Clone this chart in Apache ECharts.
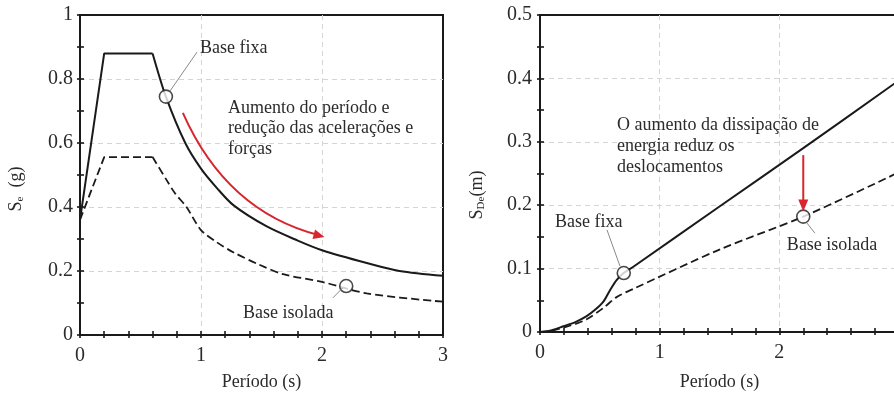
<!DOCTYPE html>
<html>
<head>
<meta charset="utf-8">
<script src="https://cdn.jsdelivr.net/npm/echarts@6/dist/echarts.min.js"></script>
<style>
html, body { margin: 0; padding: 0; background: #fff; }
#chart { width: 894px; height: 394px; }
</style>
</head>
<body>
<div id="chart"></div>
<script>
// left panel: Se (g) vs period, fixed base (solid) and isolated base (dashed)
var seFixedRise = [[0, 0.36], [0.2, 0.88], [0.6, 0.88]]
var seFixedDecay = [[0.6, 0.88], [0.71, 0.745], [0.87, 0.6], [1.0, 0.52], [1.13, 0.46], [1.27, 0.405], [1.54, 0.34], [1.8, 0.295], [2.0, 0.265], [2.37, 0.225], [2.64, 0.2], [3.0, 0.185]]
var seIsoRise = [[0, 0.36], [0.2, 0.556], [0.6, 0.556]]
var seIsoDecay = [[0.6, 0.556], [0.716, 0.484], [0.785, 0.443], [0.88, 0.4], [1.0, 0.328], [1.13, 0.29], [1.27, 0.258], [1.48, 0.22], [1.68, 0.19], [2.0, 0.166], [2.37, 0.13], [3.0, 0.104]]
var seMarkers = [[0.71, 0.745], [2.2, 0.153]]

// right panel: SDe (m) vs period
var sdFixed = [[0, 0], [0.1, 0.003], [0.195, 0.009], [0.3, 0.016], [0.39, 0.025], [0.46, 0.035], [0.53, 0.048], [0.585, 0.066], [0.64, 0.082], [0.7, 0.093], [0.78, 0.103], [1.5, 0.198], [2.2, 0.29], [3.0, 0.397]]
var sdIso = [[0, 0], [0.1, 0.002], [0.195, 0.007], [0.3, 0.013], [0.39, 0.02], [0.53, 0.038], [0.64, 0.055], [0.78, 0.068], [1.5, 0.13], [2.2, 0.182], [3.0, 0.252]]
var sdMarkers = [[0.7, 0.093], [2.2, 0.182]]

var xTitle = 'Período (s)'
var leftNote = ['Aumento do período e', 'redução das acelerações e', 'forças']
var rightNote = ['O aumento da dissipação de', 'energia reduz os', 'deslocamentos']

var FONT = 'Liberation Serif'
var INK = '#1a1a1a'
var TXT = '#2b2b2b'
var RED = '#d7262e'

var chart = echarts.init(document.getElementById('chart'), null, { renderer: 'canvas' })

var gridLine = { show: true, showMinLine: false, showMaxLine: false, lineStyle: { color: '#d4d4d4', type: [5, 4], width: 1 } }

function mainX(grid, gap) {
  return {
    type: 'value', gridIndex: grid, min: 0, max: 3, interval: 1,
    name: xTitle, nameLocation: 'middle', nameGap: gap,
    nameTextStyle: { fontFamily: FONT, fontSize: 18, color: TXT },
    axisLine: { lineStyle: { color: INK, width: 2 } },
    axisTick: { inside: true, length: 4, lineStyle: { color: INK, width: 1.6 } },
    minorTick: { show: true, splitNumber: 5, length: 4, lineStyle: { color: INK, width: 1.6 } },
    axisLabel: { fontFamily: FONT, fontSize: 20, color: TXT, margin: 11 },
    splitLine: gridLine
  }
}
// second axis on the same side, only to make ticks cross the axis line
function tickX(grid) {
  return {
    type: 'value', gridIndex: grid, min: 0, max: 3, interval: 1, position: 'bottom',
    axisLine: { show: false },
    axisTick: { inside: false, length: 3, lineStyle: { color: INK, width: 1.6 } },
    minorTick: { show: true, splitNumber: 5, length: 3, lineStyle: { color: INK, width: 1.6 } },
    axisLabel: { show: false }, splitLine: { show: false }
  }
}
function mainY(grid, max, step, margin) {
  return {
    type: 'value', gridIndex: grid, min: 0, max: max, interval: step,
    axisLine: { lineStyle: { color: INK, width: 2 } },
    axisTick: { inside: true, length: 4, lineStyle: { color: INK, width: 1.6 } },
    minorTick: { show: true, splitNumber: 2, length: 4, lineStyle: { color: INK, width: 1.6 } },
    axisLabel: { fontFamily: FONT, fontSize: 20, color: TXT, margin: margin },
    splitLine: gridLine
  }
}
function tickY(grid, max, step) {
  return {
    type: 'value', gridIndex: grid, min: 0, max: max, interval: step, position: 'left',
    axisLine: { show: false },
    axisTick: { inside: false, length: 3, lineStyle: { color: INK, width: 1.6 } },
    minorTick: { show: true, splitNumber: 2, length: 3, lineStyle: { color: INK, width: 1.6 } },
    axisLabel: { show: false }, splitLine: { show: false }
  }
}
function curve(data, xi, yi, dashed, smooth) {
  return {
    type: 'line', xAxisIndex: xi, yAxisIndex: yi, data: data,
    showSymbol: false, smooth: smooth, silent: true,
    lineStyle: { color: INK, width: dashed ? 1.8 : 2, type: dashed ? [8, 4] : 'solid' },
    z: 3
  }
}
function markers(data, xi, yi) {
  return {
    type: 'scatter', xAxisIndex: xi, yAxisIndex: yi, data: data,
    symbol: 'circle', symbolSize: 13, silent: true,
    itemStyle: { color: '#fff', borderColor: INK, borderWidth: 1.6 },
    z: 5
  }
}

chart.setOption({
  animation: false,
  backgroundColor: '#fff',
  grid: [
    { left: 80, top: 15, width: 363, height: 320, show: true, borderColor: INK, borderWidth: 2, outerBoundsMode: 'none' },
    { left: 540, top: 15, width: 359, height: 317, show: true, borderColor: INK, borderWidth: 2, outerBoundsMode: 'none' }
  ],
  xAxis: [mainX(0, 38), mainX(1, 41), tickX(0), tickX(1)],
  yAxis: [mainY(0, 1, 0.2, 7), mainY(1, 0.5, 0.1, 8), tickY(0, 1, 0.2), tickY(1, 0.5, 0.1)],
  series: [
    curve(seFixedRise, 0, 0, false, false),
    curve(seFixedDecay, 0, 0, false, 0.3),
    curve(seIsoRise, 0, 0, true, false),
    curve(seIsoDecay, 0, 0, true, 0.3),
    markers(seMarkers, 0, 0),
    curve(sdFixed, 1, 1, false, 0.3),
    curve(sdIso, 1, 1, true, 0.3),
    markers(sdMarkers, 1, 1)
  ]
})

// annotations, anchored to data positions
function px(grid, p) { return chart.convertToPixel({ gridIndex: grid }, p) }
function label(grid, p, text, lh) {
  var q = px(grid, p)
  return {
    type: 'text', x: q[0], y: q[1], z: 10,
    style: { text: text, fontFamily: FONT, fontSize: 18, fill: TXT, align: 'left', verticalAlign: 'middle', lineHeight: lh || 20 }
  }
}
function leader(grid, a, b) {
  var p = px(grid, a), q = px(grid, b)
  return { type: 'line', z: 9, shape: { x1: p[0], y1: p[1], x2: q[0], y2: q[1] }, style: { stroke: '#8a8a8a', lineWidth: 1 } }
}
function head(tip, from, len, half) {
  var dx = tip[0] - from[0], dy = tip[1] - from[1]
  var d = Math.sqrt(dx * dx + dy * dy)
  var ux = dx / d, uy = dy / d
  var bx = tip[0] - ux * len, by = tip[1] - uy * len
  return {
    type: 'polygon', z: 11,
    shape: { points: [tip, [bx - uy * half, by + ux * half], [bx + uy * half, by - ux * half]] },
    style: { fill: RED }
  }
}

var a0 = px(0, [0.85, 0.694]), ac = px(0, [1.21, 0.387]), a1 = px(0, [2.02, 0.306])
var b0 = px(1, [2.2, 0.279]), b1 = px(1, [2.2, 0.19])

chart.setOption({
  graphic: [
    label(0, [0.992, 0.897], 'Base fixa'),
    leader(0, [0.744, 0.7625], [0.967, 0.884]),
    label(0, [1.223, 0.678 - 0.032], leftNote.join('\n'), 20.5),
    label(0, [1.347, 0.069], 'Base isolada'),
    leader(0, [2.17, 0.147], [2.09, 0.116]),
    { type: 'bezierCurve', z: 11,
      shape: { x1: a0[0], y1: a0[1], cpx1: ac[0], cpy1: ac[1], x2: a1[0] - 6, y2: a1[1] - 2 },
      style: { stroke: RED, lineWidth: 2, fill: null } },
    head(a1, ac, 11, 5),

    label(1, [0.643, 0.3265 - 0.033], rightNote.join('\n'), 21),
    label(1, [0.125, 0.1735], 'Base fixa'),
    leader(1, [0.56, 0.161], [0.668, 0.104]),
    label(1, [2.063, 0.137], 'Base isolada'),
    leader(1, [2.23, 0.172], [2.297, 0.156]),
    { type: 'line', z: 11, shape: { x1: b0[0], y1: b0[1], x2: b1[0], y2: b1[1] - 10 }, style: { stroke: RED, lineWidth: 2 } },
    head(b1, b0, 12, 5),

    { type: 'text', x: 16, y: 189, rotation: Math.PI / 2, z: 10,
      style: { text: '{m|S}{s|e}{m|  (g)}', align: 'center', verticalAlign: 'middle', fill: TXT,
        rich: { m: { fontFamily: FONT, fontSize: 18, fill: TXT, lineHeight: 20 },
                s: { fontFamily: FONT, fontSize: 11, fill: TXT, lineHeight: 12, verticalAlign: 'bottom' } } } },
    { type: 'text', x: 477, y: 195, rotation: Math.PI / 2, z: 10,
      style: { text: '{m|S}{s|De}{m|(m)}', align: 'center', verticalAlign: 'middle', fill: TXT,
        rich: { m: { fontFamily: FONT, fontSize: 18, fill: TXT, lineHeight: 20 },
                s: { fontFamily: FONT, fontSize: 11, fill: TXT, lineHeight: 12, verticalAlign: 'bottom' } } } }
  ]
})
</script>
</body>
</html>
